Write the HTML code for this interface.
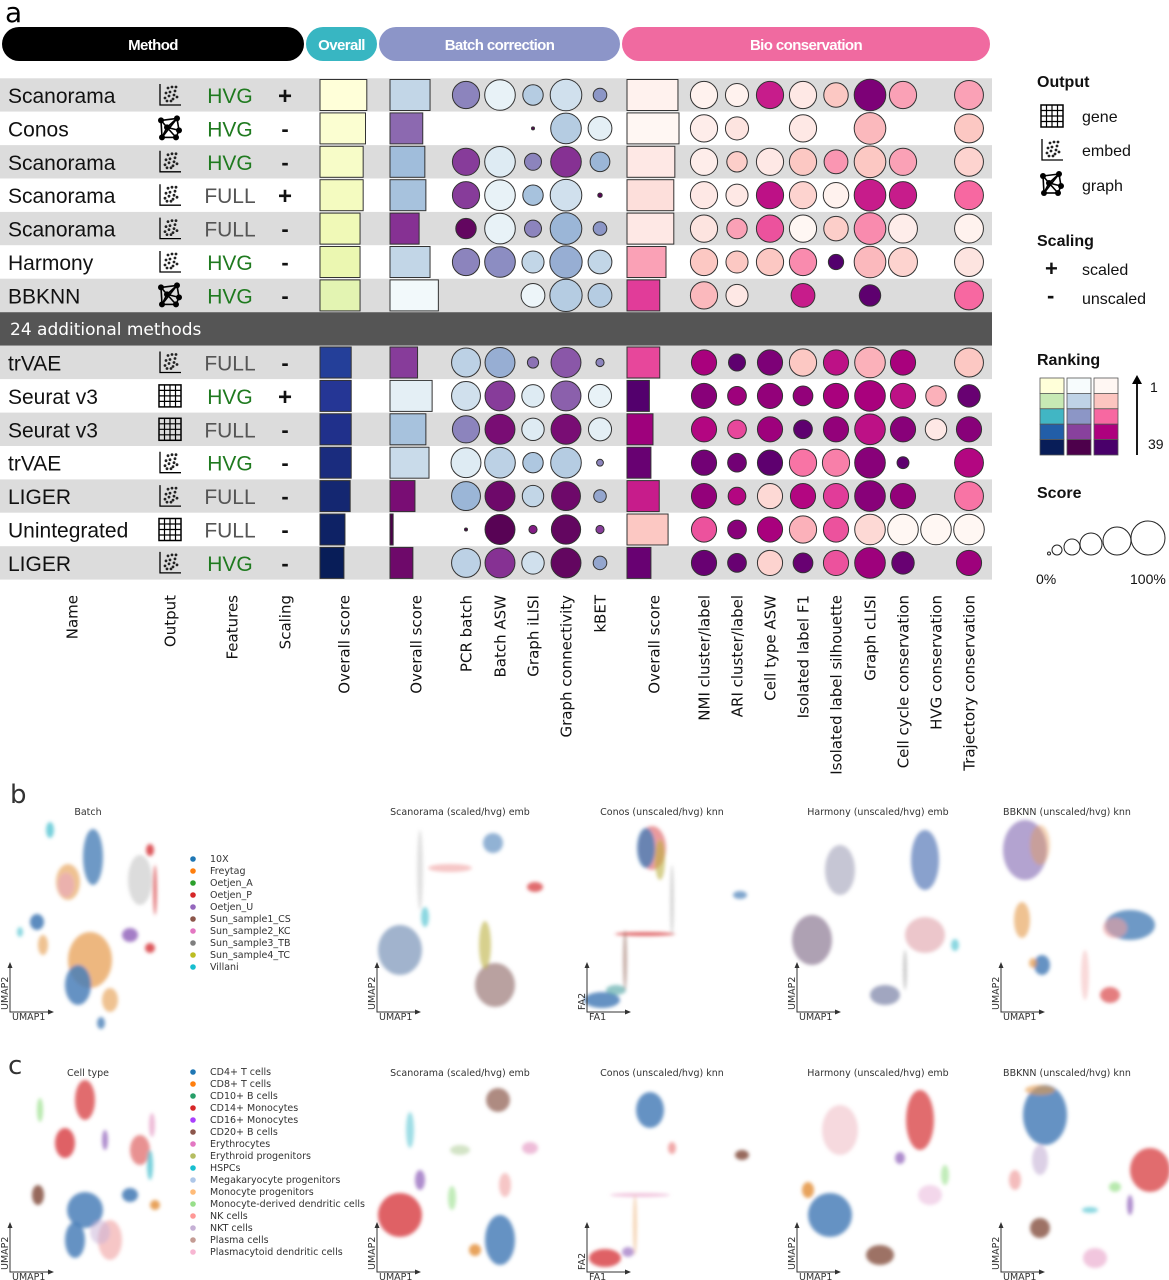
<!DOCTYPE html>
<html><head><meta charset="utf-8"><style>
body{margin:0;background:#fff}
svg{display:block}
text{font-family:"Liberation Sans","DejaVu Sans",sans-serif}
.dv{font-family:"DejaVu Sans","Liberation Sans",sans-serif}
</style></head><body>
<svg id="fig" width="1169" height="1280" viewBox="0 0 1169 1280" xmlns="http://www.w3.org/2000/svg">
<defs>
<filter id="blur" x="-50%" y="-50%" width="200%" height="200%"><feGaussianBlur stdDeviation="1.8"/></filter>
</defs>
<g id="tbl"></g>
<g id="leg"></g>
<g id="umap"></g>
</svg>
<script>
const NS="http://www.w3.org/2000/svg";
function mk(tag,attrs,parent,txt){const e=document.createElementNS(NS,tag);for(const k in attrs)e.setAttribute(k,attrs[k]);if(txt!==undefined)e.textContent=txt;parent.appendChild(e);return e;}

// ---------- data ----------
const names=["Scanorama","Conos","Scanorama","Scanorama","Scanorama","Harmony","BBKNN","trVAE","Seurat v3","Seurat v3","trVAE","LIGER","Unintegrated","LIGER"];
const outputs=["embed","graph","embed","embed","embed","embed","graph","embed","gene","gene","embed","embed","gene","embed"];
const features=["HVG","HVG","HVG","FULL","FULL","HVG","HVG","FULL","HVG","FULL","HVG","FULL","FULL","HVG"];
const scaling=["+","-","-","+","-","-","-","-","+","-","-","-","-","-"];
const overallScore=[0.90,0.875,0.83,0.83,0.77,0.77,0.77,0.60,0.60,0.60,0.60,0.58,0.48,0.46];
const overallRank=[1,2,3,4,5,6,7,33,34,35,36,37,38,39];
const batchScore=[0.77,0.63,0.67,0.69,0.56,0.77,0.93,0.53,0.81,0.69,0.75,0.48,0.06,0.44];
const batchRank=[10,25,15,14,31,10,2,30,5,14,9,35,39,36];
const bioScore=[0.98,1.0,0.92,0.90,0.90,0.75,0.63,0.63,0.43,0.50,0.46,0.62,0.79,0.46];
const bioRank=[2,1,4,6,4,15,24,23,38,31,36,27,10,36];
const pcrBatch=[0.8,null,0.8,0.8,0.6,0.8,null,0.85,0.85,0.8,0.88,0.85,0.05,0.85];
const pcrBatchRank=[22,0,30,30,37,22,0,11,8,22,6,16,39,11];
const batchAsw=[0.9,null,0.9,0.9,0.9,0.9,null,0.88,0.88,0.88,0.9,0.88,0.88,0.88];
const batchAswRank=[4,0,6,4,4,21,0,17,30,35,11,36,38,31];
const graphIlisi=[0.6,0.05,0.5,0.6,0.5,0.65,0.7,0.33,0.66,0.66,0.6,0.63,0.24,0.66];
const graphIlisiRank=[12,38,22,14,22,10,3,24,6,6,13,10,33,8];
const graphConn=[0.93,0.9,0.9,0.93,0.93,0.95,0.95,0.88,0.88,0.88,0.9,0.85,0.86,0.88];
const graphConnRank=[8,12,31,8,16,17,12,27,26,35,12,36,37,37];
const kbet=[0.4,0.7,0.58,0.13,0.4,0.7,0.7,0.24,0.68,0.68,0.2,0.37,0.24,0.4];
const kbetRank=[20,5,16,38,20,10,12,22,4,5,22,18,30,18];
const nmi=[0.8,0.8,0.8,0.8,0.8,0.8,0.8,0.74,0.74,0.74,0.74,0.74,0.74,0.74];
const nmiRank=[2,3,3,4,5,10,12,30,33,29,35,32,22,36];
const ari=[0.68,0.68,0.6,0.65,0.6,0.65,0.65,0.5,0.55,0.55,0.55,0.52,0.55,0.55];
const ariRank=[2,5,9,4,15,10,4,37,31,23,35,29,33,36];
const ctAsw=[0.8,null,0.8,0.8,0.8,0.8,null,0.74,0.74,0.74,0.74,0.74,0.74,0.74];
const ctAswRank=[27,0,4,28,22,10,0,34,32,31,37,7,30,8];
const isoF1=[0.8,0.8,0.8,0.8,0.8,0.8,0.7,0.8,0.58,0.55,0.8,0.74,0.8,0.58];
const isoF1Rank=[4,4,10,8,1,17,27,10,32,37,19,29,13,36];
const isoSil=[0.72,null,0.7,0.75,0.72,0.45,null,0.74,0.74,0.74,0.8,0.74,0.74,0.74];
const isoSilRank=[10,0,16,2,9,38,0,28,30,32,18,24,22,22];
const clisi=[0.93,0.93,0.93,0.93,0.93,0.93,0.63,0.9,0.9,0.9,0.9,0.9,0.9,0.9];
const clisiRank=[34,12,10,27,17,12,37,13,30,28,33,33,7,31];
const cellCycle=[0.8,null,0.8,0.8,0.85,0.85,null,0.74,0.74,0.74,0.35,0.74,0.9,0.66];
const cellCycleRank=[15,0,15,27,3,8,0,30,28,33,37,32,1,36];
const hvgCons=[null,null,null,null,null,null,null,null,0.6,0.63,null,null,0.9,null];
const hvgConsRank=[0,0,0,0,0,0,0,0,13,4,0,0,1,0];
const trajCons=[0.85,0.85,0.85,0.85,0.85,0.85,0.85,0.85,0.66,0.74,0.85,0.85,0.9,0.74];
const trajConsRank=[15,10,8,20,2,5,20,10,36,33,29,19,1,31];

// palettes
const palOverall=["#ffffd9","#edf8b1","#c7e9b4","#7fcdbb","#41b6c4","#1d91c0","#225ea8","#253494","#081d58"];
const palBatch=["#f7fcfd","#e0ecf4","#bfd3e6","#9ebcda","#8c96c6","#8c6bb1","#88419d","#810f7c","#4d004b"];
const palBio=["#fff7f3","#fde0dd","#fcc5c0","#fa9fb5","#f768a1","#dd3497","#ae017e","#7a0177","#49006a"];
function hex(h){return [1,3,5].map(i=>parseInt(h.substr(i,2),16));}
function col(pal,rank){const t=Math.max(0,Math.min(1,(rank-1)/38))*(pal.length-1);const i=Math.min(Math.floor(t),pal.length-2),f=t-i;const a=hex(pal[i]),b=hex(pal[i+1]);return "rgb("+a.map((v,k)=>Math.round(v+(b[k]-v)*f)).join(",")+")";}

// scales
const rowY=i=> i<7 ? 95+i*33.4 : 362.5+(i-7)*33.4;
const barW=s=>s*52;
const rad=s=>s*17;

const T=document.getElementById("tbl");
let e=mk("text",{x:5,y:22,"font-size":28,class:"dv"},T,"a");


const pills=[["Method",2,304,"#000"],["Overall",306,377,"#38b6c2"],["Batch correction",379,620,"#8c95c8"],["Bio conservation",622,990,"#f06aa0"]];
pills.forEach(p=>{const g=mk("g",{},T);
 mk("rect",{x:p[1],y:27,width:p[2]-p[1],height:34,rx:17,fill:p[3]},g);
 mk("text",{x:(p[1]+p[2])/2,y:50,"text-anchor":"middle","font-size":15,"font-weight":"bold",fill:"#fff","letter-spacing":"-0.6"},g,p[0]);});

for(let i=0;i<14;i++){const y=rowY(i);const r=mk("rect",{x:0,y:y-16.7,width:992,height:33.4,fill:(i<7?i:i-7)%2===0?"#dcdcdc":"#fff"},T);
 }
const sep=mk("g",{},T);
mk("rect",{x:0,y:312.2,width:992,height:33.4,fill:"#555"},sep);
mk("text",{x:10,y:335,"font-size":17,fill:"#fff",class:"dv"},sep,"24 additional methods");

function icon(kind,cx,cy,parent){const g=mk("g",{},parent);
 if(kind==="embed"){mk("path",{d:`M${cx-10} ${cy-11}V${cy+10}H${cx+11}`,stroke:"#000",fill:"none","stroke-width":1.3},g);
  const d=[[-2,-7],[2,-8],[5,-4],[-4,-2],[0,-3],[4,0],[-5,3],[-1,1],[3,4],[-3,6],[1,6],[6,-8],[7,2]];
  d.forEach(p=>mk("circle",{cx:cx+p[0],cy:cy+p[1],r:1.4,fill:"#222"},g));}
 else if(kind==="graph"){const n=[[-9,-8],[7,-10],[-3,-1],[9,2],[-8,9],[6,9]];
  [[0,1],[0,2],[1,2],[1,3],[2,3],[2,4],[0,4],[3,5],[4,5],[1,4],[2,5]].forEach(l=>mk("line",{x1:cx+n[l[0]][0],y1:cy+n[l[0]][1],x2:cx+n[l[1]][0],y2:cy+n[l[1]][1],stroke:"#000","stroke-width":1.6},g));
  n.forEach(p=>mk("circle",{cx:cx+p[0],cy:cy+p[1],r:3,fill:"#000"},g));}
 else {mk("rect",{x:cx-11,y:cy-11,width:22,height:22,fill:"none",stroke:"#000","stroke-width":1.5},g);
  for(let k=1;k<4;k++){mk("line",{x1:cx-11+k*5.5,y1:cy-11,x2:cx-11+k*5.5,y2:cy+11,stroke:"#000","stroke-width":1.2},g);mk("line",{x1:cx-11,y1:cy-11+k*5.5,x2:cx+11,y2:cy-11+k*5.5,stroke:"#000","stroke-width":1.2},g);}}
 return g;}

for(let i=0;i<14;i++){const y=rowY(i);
 let t=mk("text",{x:8,y:y+8,"font-size":21,fill:"#111"},T,names[i]);
 
 icon(outputs[i],170,y,T);
 t=mk("text",{x:230,y:y+8,"text-anchor":"middle","font-size":21,fill:features[i]==="HVG"?"#1f7a1f":"#555"},T,features[i]);
 
 t=mk("text",{x:285,y:y+(scaling[i]==="+"?9:8),"text-anchor":"middle","font-size":scaling[i]==="+"?24:22,"font-weight":"bold",fill:"#111"},T,scaling[i]==="+"?"+":"-");
 
}
function bars(score,rank,x0,pal,name){for(let i=0;i<14;i++){const y=rowY(i);
 const r=mk("rect",{x:x0,y:y-15.5,width:barW(score[i]),height:31,fill:col(pal,rank[i]),stroke:"#333","stroke-width":1},T);
 }}
bars(overallScore,overallRank,320,palOverall,'overall-score-bar');
bars(batchScore,batchRank,390,palBatch,'batch-overall-bar');
bars(bioScore,bioRank,627,palBio,'bio-overall-bar');
function dots(sz,rank,cx,pal,name){for(let i=0;i<14;i++){if(sz[i]==null)continue;
 const c=mk("circle",{cx:cx,cy:rowY(i),r:Math.max(1.5,rad(sz[i])),fill:col(pal,rank[i]),stroke:"#333","stroke-width":1},T);
 }}
dots(pcrBatch,pcrBatchRank,466,palBatch,'pcr-batch-dot');
dots(batchAsw,batchAswRank,500,palBatch,'batch-asw-dot');
dots(graphIlisi,graphIlisiRank,533,palBatch,'graph-ilisi-dot');
dots(graphConn,graphConnRank,566,palBatch,'graph-connectivity-dot');
dots(kbet,kbetRank,600,palBatch,'kbet-dot');
dots(nmi,nmiRank,704,palBio,'nmi-dot');
dots(ari,ariRank,737,palBio,'ari-dot');
dots(ctAsw,ctAswRank,770,palBio,'cell-type-asw-dot');
dots(isoF1,isoF1Rank,803,palBio,'isolated-f1-dot');
dots(isoSil,isoSilRank,836,palBio,'isolated-silhouette-dot');
dots(clisi,clisiRank,870,palBio,'graph-clisi-dot');
dots(cellCycle,cellCycleRank,903,palBio,'cell-cycle-dot');
dots(hvgCons,hvgConsRank,936,palBio,'hvg-conservation-dot');
dots(trajCons,trajConsRank,969,palBio,'trajectory-dot');

const colLabels=["Name","Output","Features","Scaling","Overall score","Overall score","PCR batch","Batch ASW","Graph iLISI","Graph connectivity","kBET","Overall score","NMI cluster/label","ARI cluster/label","Cell type ASW","Isolated label F1","Isolated label silhouette","Graph cLISI","Cell cycle conservation","HVG conservation","Trajectory conservation"];
const colX=[72,170,232,285,344,416,466,500,533,566,600,654,704,737,770,803,836,870,903,936,969];
colLabels.forEach((l,k)=>{const x=colX[k]+5.5;const t=mk("text",{x:x,y:595,transform:`rotate(-90 ${x} 595)`,"text-anchor":"end","font-size":15,class:"dv",fill:"#111"},T,l);
 });

// ---------- legend ----------
const L=document.getElementById("leg");
function lt(x,y,s,txt,b,name){const t=mk("text",{x:x,y:y,"font-size":s,"font-weight":b?"bold":"normal",fill:"#111"},L,txt);return t;}
lt(1037,87,16,"Output",1,'legend-output-title');
icon("gene",1052,116,L);lt(1082,122,16,"gene",0,'legend-gene');
icon("embed",1052,150,L);lt(1082,156,16,"embed",0,'legend-embed');
icon("graph",1052,184,L);lt(1082,191,16,"graph",0,'legend-graph');
lt(1037,246,16,"Scaling",1,'legend-scaling-title');
lt(1045,276,22,"+",1,'legend-plus');lt(1082,275,16,"scaled",0,'legend-scaled');
lt(1047,303,22,"-",1,'legend-minus');lt(1082,304,16,"unscaled",0,'legend-unscaled');
lt(1037,365,16,"Ranking",1,'legend-ranking-title');
[palOverall,palBatch,palBio].forEach((p,c)=>{for(let k=0;k<5;k++){const r=mk("rect",{x:1040+c*27,y:378+k*15.4,width:24,height:15.4,fill:col(p,1+k*9.5),stroke:"#555","stroke-width":0.8},L);}});
mk("line",{x1:1137,y1:455,x2:1137,y2:382,stroke:"#000","stroke-width":1.8},L);
mk("path",{d:"M1132 384L1137 375L1142 384Z",fill:"#000"},L);
lt(1150,392,14,"1",0,'legend-rank-1');lt(1148,449,14,"39",0,'legend-rank-39');
lt(1037,498,16,"Score",1,'legend-score-title');
[[1049,1.5],[1057,5],[1072,8],[1091,11],[1117,14],[1148,17]].forEach(c=>{const ci=mk("circle",{cx:c[0],cy:555-c[1],r:c[1],fill:"#fff",stroke:"#222","stroke-width":1},L);});
lt(1036,584,14,"0%",0,'legend-0pct');lt(1130,584,14,"100%",0,'legend-100pct');

// ---------- embeddings ----------
const U=document.getElementById("umap");
const batchNames=["10X","Freytag","Oetjen_A","Oetjen_P","Oetjen_U","Sun_sample1_CS","Sun_sample2_KC","Sun_sample3_TB","Sun_sample4_TC","Villani"];
const batchCols=["#1f77b4","#ff7f0e","#2ca02c","#d62728","#9467bd","#8c564b","#e377c2","#7f7f7f","#bcbd22","#17becf"];
const cellNames=["CD4+ T cells","CD8+ T cells","CD10+ B cells","CD14+ Monocytes","CD16+ Monocytes","CD20+ B cells","Erythrocytes","Erythroid progenitors","HSPCs","Megakaryocyte progenitors","Monocyte progenitors","Monocyte-derived dendritic cells","NK cells","NKT cells","Plasma cells","Plasmacytoid dendritic cells"];
const cellCols=["#1f77b4","#ff7f0e","#279e68","#d62728","#aa40fc","#8c564b","#e377c2","#b5bd61","#17becf","#aec7e8","#ffbb78","#98df8a","#ff9896","#c5b0d5","#c49c94","#f7b6d2"];
const B="#4a7fb8",O="#e5994a",R="#d9474a",G="#9a9a9a",P="#9a6fc0",C="#3cbccc",BR="#8c5a4b",PK="#e7a0c8",GD="#bcb040",MX="#9a94a8",LR="#f0a0a0";
const blobsB=[
 [93,857,10,28,B,.8],[68,882,12,18,O,.6],[66,885,8,12,PK,.5],[37,922,7,8,B,.9],[43,945,5,10,O,.6],[90,960,22,28,O,.7],[78,985,13,20,B,.85],[110,1000,8,12,O,.6],[101,1023,4,6,B,.8],[130,935,8,7,P,.9],[140,880,12,25,G,.35],[150,850,4,6,R,.9],[155,890,2,25,R,.7],[150,948,5,5,R,.9],[50,830,4,8,C,.7],[20,932,3,5,C,.6],
 [400,950,22,25,"#8aa0c0",.8],[495,985,20,22,"#a88a88",.8],[485,945,6,24,GD,.6],[493,843,10,10,B,.6],[535,887,8,5,R,.8],[450,868,22,4,LR,.6],[420,870,3,40,G,.3],[425,917,4,10,C,.6],
 [652,848,14,22,R,.55],[646,848,9,20,B,.8],[660,860,5,20,GD,.6],[602,1000,18,8,B,.85],[616,990,10,5,"#4aa0a0",.6],[645,934,30,2,R,.8],[740,895,7,4,B,.7],[672,900,2,35,G,.4],[625,960,2,30,BR,.5],
 [812,940,20,25,"#9a8aa0",.8],[840,870,15,25,"#a0a0b8",.6],[925,860,14,30,"#6a8ac0",.8],[925,935,20,18,"#e0a0a8",.6],[885,995,15,10,"#8a90b0",.8],[905,970,2,20,G,.5],[955,945,4,6,C,.6],
 [1025,850,22,30,"#9a84c0",.75],[1040,845,10,20,O,.4],[1022,920,8,18,O,.6],[1130,925,25,15,B,.8],[1115,928,12,10,LR,.6],[1042,965,8,10,B,.85],[1033,963,4,5,O,.7],[1110,995,10,8,R,.7],[1085,975,4,25,LR,.4]];
const blobsC=[
 [85,1100,10,20,R,.8],[65,1143,10,15,R,.85],[38,1195,6,10,BR,.9],[85,1210,18,18,B,.85],[75,1240,10,18,B,.85],[110,1240,12,20,LR,.6],[100,1232,10,12,"#c5b0d5",.5],[105,1140,3,10,P,.8],[140,1150,10,15,R,.6],[150,1165,3,15,C,.7],[130,1195,8,7,B,.9],[155,1205,5,5,O,.9],[152,1125,3,12,PK,.7],[40,1110,3,12,"#98df8a",.7],
 [400,1215,22,22,R,.85],[500,1240,15,25,B,.85],[475,1250,6,6,O,.9],[498,1100,12,12,BR,.7],[530,1148,8,6,PK,.7],[420,1180,5,10,P,.8],[460,1150,10,5,"#b5d0a0",.6],[505,1185,6,12,LR,.6],[410,1130,4,18,C,.5],[452,1198,4,12,"#98df8a",.6],
 [650,1110,14,18,B,.85],[672,1148,4,6,LR,.9],[742,1155,7,5,BR,.9],[605,1258,16,9,R,.85],[628,1252,6,5,P,.7],[640,1195,30,2,PK,.6],[635,1225,2,30,O,.4],
 [830,1215,22,22,B,.85],[808,1190,6,8,O,.9],[920,1120,14,30,R,.8],[840,1130,18,25,"#f0c0c8",.6],[880,1255,14,10,BR,.85],[900,1158,5,6,P,.8],[930,1195,12,10,"#e8b0d8",.5],[945,1175,4,10,"#98df8a",.6],
 [1045,1115,22,30,B,.85],[1040,1090,15,5,O,.6],[1040,1160,8,15,"#c5b0d5",.6],[1015,1180,6,10,LR,.7],[1150,1170,20,22,R,.8],[1040,1228,10,10,BR,.85],[1095,1258,12,10,PK,.6],[1115,1187,6,5,"#98df8a",.7],[1130,1205,3,10,P,.8],[1090,1210,8,3,C,.6]];
function drawBlobs(arr){const g=mk("g",{filter:"url(#blur)"},U);arr.forEach(b=>{const el=mk("ellipse",{cx:b[0],cy:b[1],rx:b[2],ry:b[3],fill:b[4],opacity:b[5]},g);});}
drawBlobs(blobsB);drawBlobs(blobsC);
function ut(x,y,s,txt,name,anchor){const t=mk("text",{x:x,y:y,"font-size":s,class:"dv",fill:"#333","text-anchor":anchor||"start"},U,txt);return t;}
e=ut(10,803,26,"b",'panel-label-b');e=ut(8,1074,26,"c",'panel-label-c');
const titles=["Scanorama (scaled/hvg) emb","Conos (unscaled/hvg) knn","Harmony (unscaled/hvg) emb","BBKNN (unscaled/hvg) knn"];
const titleX=[460,662,878,1067];
[[815,"Batch"],[1076,"Cell type"]].forEach(r=>{ut(88,r[0],9.5,r[1],'panel-title','middle');titles.forEach((t,k)=>ut(titleX[k],r[0],9.5,t,'panel-title','middle'));});
batchNames.forEach((n,k)=>{mk("circle",{cx:193,cy:862+k*12-3,r:2.8,fill:batchCols[k]},U);ut(210,862+k*12,9.5,n,'batch-legend-entry');});
cellNames.forEach((n,k)=>{mk("circle",{cx:193,cy:1075+k*12-3,r:2.8,fill:cellCols[k]},U);ut(210,1075+k*12,9.5,n,'celltype-legend-entry');});
const axX=[10,377,587,797,1001];
[1012,1272].forEach(yb=>{axX.forEach((x,k)=>{const fa=k===2;
 mk("path",{d:`M${x} ${yb-48}V${yb}H${x+42}`,stroke:"#333",fill:"none","stroke-width":1},U);
 mk("path",{d:`M${x-2.5} ${yb-44}L${x} ${yb-50}L${x+2.5} ${yb-44}Z M${x+38} ${yb-2.5}L${x+44} ${yb}L${x+38} ${yb+2.5}Z`,fill:"#333"},U);
 ut(x+2,yb+8,9.5,fa?"FA1":"UMAP1",'x-axis-title');
 const t=ut(x-2,yb-2,9.5,fa?"FA2":"UMAP2",'y-axis-title');t.setAttribute("transform",`rotate(-90 ${x-2} ${yb-2})`);});});
</script>
</body></html>
